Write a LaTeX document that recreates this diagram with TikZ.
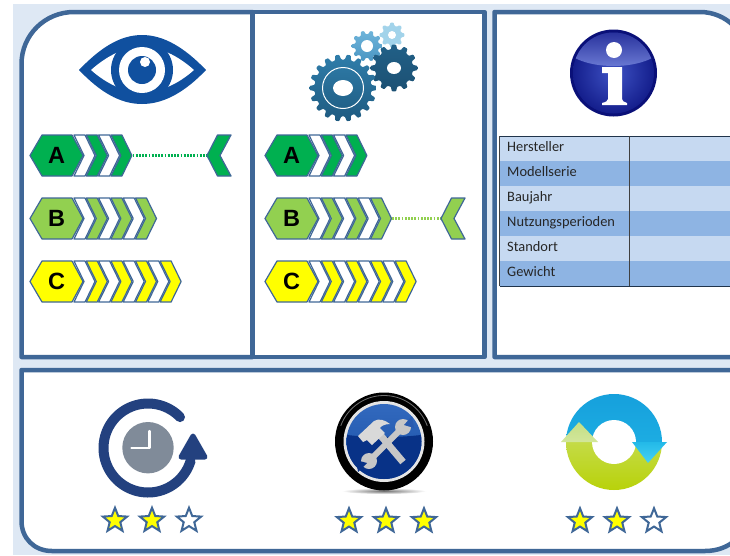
\documentclass[tikz,border=0pt]{standalone}
\usepackage{fontspec}
\setmainfont{Liberation Sans}
\newfontfamily\tablefont{Carlito}
\usetikzlibrary{shapes.geometric}
\definecolor{frameblue}{HTML}{3F6797}
\definecolor{pagebg}{HTML}{DEE8F4}
\definecolor{ratingA}{HTML}{00B050}
\definecolor{ratingB}{HTML}{92D050}
\definecolor{ratingC}{HTML}{FFFF00}
\definecolor{eyeblue}{HTML}{10509F}
\definecolor{rowlight}{HTML}{C6D9F1}
\definecolor{rowdark}{HTML}{8EB4E3}
\definecolor{clockblue}{HTML}{23417F}
\definecolor{clockgray}{HTML}{808B99}
\definecolor{gearlight}{RGB}{162,211,234}
\definecolor{gearmidA}{RGB}{110,180,218}
\definecolor{gearmidB}{RGB}{75,150,195}
\definecolor{geardarkA}{RGB}{33,96,135}
\definecolor{geardarkB}{RGB}{28,80,115}
\definecolor{gearbigA}{RGB}{47,125,170}
\definecolor{gearbigB}{RGB}{30,90,128}
\definecolor{infoRim}{RGB}{10,16,120}
\definecolor{infoIn}{RGB}{62,82,196}
\definecolor{infoOut}{RGB}{20,30,140}
\definecolor{infoGlossA}{RGB}{20,28,140}
\definecolor{infoGlossB}{RGB}{105,120,210}
\definecolor{toolA}{RGB}{50,105,190}
\definecolor{toolB}{RGB}{25,80,165}
\definecolor{toolC}{RGB}{8,50,135}
\definecolor{toolD}{RGB}{40,90,175}
\definecolor{cycBlueA}{RGB}{22,160,220}
\definecolor{cycBlueB}{RGB}{35,185,232}
\definecolor{cycGreenA}{RGB}{208,228,130}
\definecolor{cycGreenB}{RGB}{184,210,10}
\definecolor{cycArrowGA}{RGB}{196,223,133}
\definecolor{cycArrowGB}{RGB}{210,230,154}
\definecolor{cycArrowBA}{RGB}{35,185,232}
\definecolor{cycArrowBB}{RGB}{70,210,245}
\tikzset{
  panel/.style={draw=frameblue,line width=4.5pt,fill=white,line join=round},
  barline/.style={draw=frameblue,line width=1.2pt,line join=round},
  barletter/.style={font=\bfseries\fontsize{23.5}{24}\selectfont,text=black,inner sep=0pt},
  rowtext/.style={font=\tablefont\fontsize{14.4}{16}\selectfont,text=black!85,anchor=base west,inner sep=0pt},
  fullstar/.style={star,star points=5,star point ratio=2.3,minimum size=25.5pt,inner sep=0pt,draw=frameblue,line width=2pt,fill=ratingC},
  emptystar/.style={fullstar,fill=white},
  linkdots/.style={line width=2.4pt,dash pattern=on 1.8pt off 1.4pt},
}
% name, x shift, y of top, colour, number of chevrons, letter
\newcommand{\ratingbar}[6]{%
  \begin{scope}[shift={(#2,#3)}]
    \pgfmathtruncatemacro{\lastchev}{#5-1}
    \foreach \i in {0,...,\lastchev}{
      \pgfmathsetmacro{\xa}{74+12.3*\i}
      \pgfmathsetmacro{\xb}{\xa+11}
      \pgfmathsetmacro{\xc}{\xb+10}
      \pgfmathsetmacro{\xd}{\xa+10}
      \ifodd\i\def\chevfill{#4}\else\def\chevfill{white}\fi
      \path[barline,fill=\chevfill] (\xa,0) -- (\xb,0) -- (\xc,20.5) -- (\xb,41) -- (\xa,41) -- (\xd,20.5) -- cycle;
    }
    \path[barline,fill=#4] (30,20.5) -- (42,0) -- (72,0) -- (83,20.5) -- (72,41) -- (42,41) -- cycle;
    \node[barletter] (#1) at (56.5,20.5) {#6};
  \end{scope}}
% x of left tip, y of top, colour
\newcommand{\barend}[3]{%
  \path[barline,fill=#3,shift={(#1,#2)}] (0,20.5) -- (10.5,0) -- (24,0) -- (13,20.5) -- (24,41) -- (10.5,41) -- cycle;}
% cx, cy, outer r, root r, teeth, options
\newcommand{\gearshape}[6]{%
  \pgfmathsetmacro{\gs}{360/#5}
  \path[rounded corners=0.8pt,#6,shift={(#1,#2)}]
    ({#4*cos(-0.32*\gs)},{#4*sin(-0.32*\gs)})
    \foreach \k in {1,...,#5}{
      -- ({#3*cos((\k-1-0.17)*\gs)},{#3*sin((\k-1-0.17)*\gs)})
      -- ({#3*cos((\k-1+0.17)*\gs)},{#3*sin((\k-1+0.17)*\gs)})
      -- ({#4*cos((\k-1+0.32)*\gs)},{#4*sin((\k-1+0.32)*\gs)})
      -- ({#4*cos((\k-0.32)*\gs)},{#4*sin((\k-0.32)*\gs)})
    } -- cycle;}
\begin{document}
\begin{tikzpicture}[x=1pt,y=-1pt]
\useasboundingbox (0,0) rectangle (730,555);
\clip (0,0) rectangle (730,555);
\fill[pagebg] (13,4) rectangle (730,555);
% panels
\path[panel] (21.5,64) .. controls (21.5,35) and (45,12) .. (74,12) -- (252.5,12) -- (252.5,357) -- (21.5,357) -- cycle;
\path[panel] (252.5,12) rectangle (484.5,357);
\path[panel] (494.5,12) -- (700,12) .. controls (727,12) and (748,34) .. (748,60) -- (748,357) -- (494.5,357) -- cycle;
\path[panel] (21.5,370) -- (748,370) -- (748,511) .. controls (748,534) and (730,551) .. (705,551) -- (52,551) .. controls (34,551) and (21.5,538) .. (21.5,521) -- cycle;
% eye
\fill[eyeblue] (79,70) .. controls (100,48) and (120,35) .. (142,35) .. controls (164,35) and (185,48) .. (206,70) .. controls (185,92) and (164,104) .. (142,104) .. controls (120,104) and (100,92) .. (79,70) -- cycle;
\fill[white] (91,70) .. controls (108,55) and (125,47) .. (142,47) .. controls (160,47) and (177,55) .. (194,70) .. controls (177,85) and (160,92) .. (142,92) .. controls (125,92) and (108,85) .. (91,70) -- cycle;
\fill[eyeblue] (142,70) circle[radius=31pt];
\fill[white] (142,70) circle[radius=23pt];
\fill[eyeblue] (142,70) circle[radius=14pt];
\fill[white] (145,62) circle[radius=5pt];
% gears
\gearshape{392}{35}{12.5}{9.5}{8}{fill=gearlight}
\fill[white] (392,35) circle[radius=4pt];
\gearshape{367}{46}{15.5}{12}{10}{top color=gearmidA,bottom color=gearmidB}
\fill[white] (367,46) circle[radius=6pt];
\gearshape{394}{68}{23.5}{19}{12}{top color=geardarkA,bottom color=geardarkB}
\fill[white] (394,68) ellipse[x radius=7pt,y radius=6pt];
\gearshape{343}{88}{33.5}{28.5}{18}{top color=gearbigA,bottom color=gearbigB}
\draw[white,line width=1pt] (343,88) circle[radius=20.5pt];
\fill[white] (343,88) ellipse[x radius=10pt,y radius=8pt];
% rating bars, left
\ratingbar{la}{0}{135}{ratingA}{4}{A}
\ratingbar{lb}{0}{198}{ratingB}{6}{B}
\ratingbar{lc}{0}{261}{ratingC}{8}{C}
\coordinate (latip) at (132.5,155.5);
\coordinate (laend) at (207,155.5);
\draw[linkdots,draw=ratingA] (latip) -- (laend);
\barend{207}{135}{ratingA}
% rating bars, middle
\ratingbar{ma}{235}{135}{ratingA}{4}{A}
\ratingbar{mb}{235}{198}{ratingB}{6}{B}
\ratingbar{mc}{235}{261}{ratingC}{8}{C}
\coordinate (mbtip) at (392,218.5);
\coordinate (mbend) at (441,218.5);
\draw[linkdots,draw=ratingB] (mbtip) -- (mbend);
\barend{441}{198}{ratingB}
% info icon
\fill[infoRim] (613.5,73) circle[radius=43.5pt];
\shade[inner color=infoIn,outer color=infoOut] (613.5,73) circle[radius=40.5pt];
\begin{scope}
  \clip (613.5,73) circle[radius=40.5pt];
  \shade[top color=infoGlossA,bottom color=infoGlossB] (613.5,44) ellipse[x radius=50pt,y radius=22pt];
\end{scope}
\fill[white] (614,50) circle[radius=8pt];
\fill[white] (602,67) -- (622,67) -- (622,99) .. controls (622,101) and (624,102) .. (627,103) -- (627,105) -- (602,105) -- (602,103) .. controls (606,102) and (608,101) .. (608,99) -- (608,73) -- (602,73) -- cycle;
% table
\foreach \r/\rowcol/\label in {0/rowlight/Hersteller,1/rowdark/Modellserie,2/rowlight/Baujahr,3/rowdark/Nutzungsperioden,4/rowlight/Standort,5/rowdark/Gewicht}{
  \pgfmathsetmacro{\ytop}{136+25*\r}
  \pgfmathsetmacro{\ybot}{\ytop+25}
  \pgfmathsetmacro{\ybase}{\ytop+15}
  \fill[\rowcol] (499.5,\ytop) rectangle (730,\ybot);
  \draw[black!50!frameblue,line width=0.8pt] (499.5,\ybot) -- (730,\ybot);
  \node[rowtext] (row\r) at (507,\ybase) {\label};
}
\draw[black!50!frameblue,line width=0.8pt] (499.5,136) -- (730,136);
\draw[black!75,line width=0.9pt] (499.5,136) -- (499.5,286);
\draw[black!75,line width=0.9pt] (629,136) -- (629,286);
% clock icon
\draw[clockblue,line width=10pt,line cap=round] plot[domain=-44:-343,samples=90,smooth] ({148+44.5*cos(\x)},{448+44.5*sin(\x)});
\path[fill=clockblue,draw=clockblue,line width=5pt,line join=round] (193,436) -- (181,457) -- (205,457) -- cycle;
\fill[clockgray] (148,447.7) circle[radius=25.7pt];
\draw[white,line width=2.2pt,line cap=round,line join=round] (149.5,431) -- (149.5,448) -- (131.5,448);
% tools icon
\shade[inner color=black!55,outer color=white] (384,491) ellipse[x radius=42pt,y radius=3pt];
\fill[black] (384,441.5) circle[radius=49pt];
\draw[black!55,line width=0.8pt] plot[domain=200:340,samples=40,smooth] ({384+46*cos(\x)},{441.5+46*sin(\x)});
\fill[black!10] (384,441.5) circle[radius=40.5pt];
\shade[top color=toolA,bottom color=toolB] (384,441.5) circle[radius=37.5pt];
\begin{scope}
  \clip (384,441.5) circle[radius=37.5pt];
  \fill[toolC] (340,434) .. controls (365,438) and (403,438) .. (428,434) -- (428,485) -- (340,485) -- cycle;
\end{scope}
\draw[black!22,line width=7pt] (403,462) -- (376,430);
\fill[black!15] (358,436) -- (374,421) .. controls (379,418) and (385,420) .. (390,424) .. controls (385,424) and (381,426) .. (380,428) -- (385,433) -- (372,445) -- (367,440) -- (363,442) -- cycle;
\draw[black!22,line width=6pt] (371,459) -- (402,428);
\fill[black!22] (403,427) circle[radius=8pt];
\fill[black!22] (369,461) circle[radius=8pt];
\fill[toolD] (404,425) -- (412,416) -- (414,428) -- cycle;
\fill[toolC] (367,463) -- (358,472) -- (356,460) -- cycle;
% cycle icon
\begin{scope}
  \clip (555,385) rectangle (675,442);
  \shade[top color=cycBlueA,bottom color=cycBlueB] (614,442) circle[radius=48pt];
\end{scope}
\begin{scope}
  \clip (555,442) rectangle (675,500);
  \shade[top color=cycGreenA,bottom color=cycGreenB] (614,442) circle[radius=48pt];
\end{scope}
\fill[white] (614,442) circle[radius=22pt];
\shade[top color=cycArrowGA,bottom color=cycArrowGB] (579,422) -- (598,442) -- (561,442) -- cycle;
\shade[top color=cycArrowBA,bottom color=cycArrowBB] (632,442) -- (667,442) -- (648,463) -- cycle;
% stars
\node[fullstar] (s1) at (115,520.5) {};
\node[fullstar] (s2) at (152,520.5) {};
\node[emptystar] (s3) at (189,520.5) {};
\node[fullstar] (s4) at (349,521) {};
\node[fullstar] (s5) at (386,521) {};
\node[fullstar] (s6) at (424,521) {};
\node[fullstar] (s7) at (580,521) {};
\node[fullstar] (s8) at (617,521) {};
\node[emptystar] (s9) at (654,521) {};
\end{tikzpicture}
\end{document}
